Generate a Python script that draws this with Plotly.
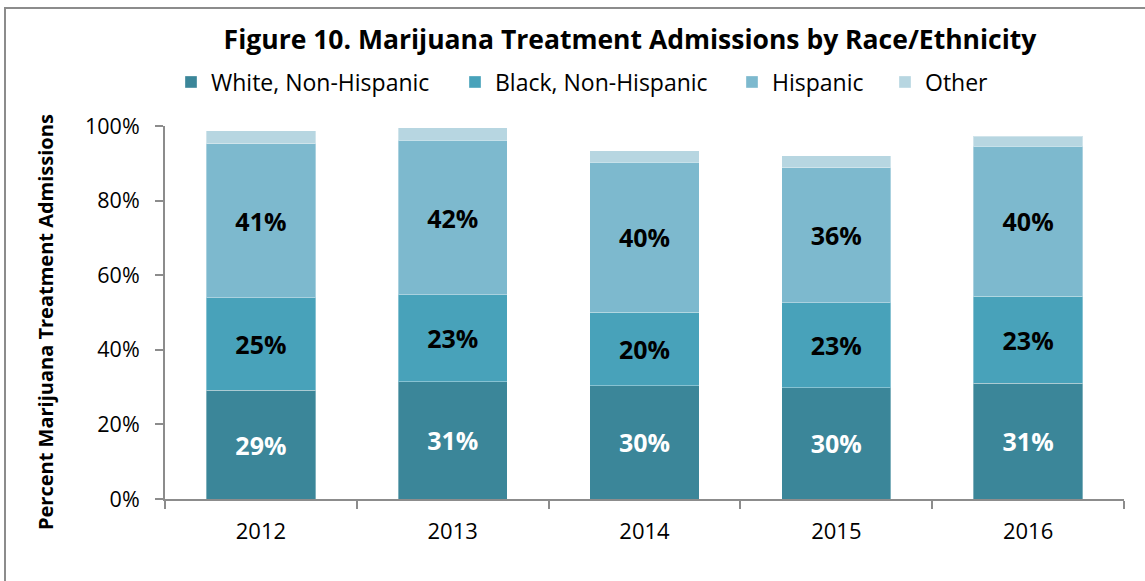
import plotly.graph_objects as go

# Share of marijuana treatment admissions by race/ethnicity (percent)
years = ["2012", "2013", "2014", "2015", "2016"]
white_non_hispanic = [29.2, 31.4, 30.3, 29.8, 31.1]
black_non_hispanic = [24.7, 23.3, 19.8, 22.8, 23.3]
hispanic = [41.3, 41.5, 40.2, 36.2, 40.2]
other = [3.5, 3.3, 3.0, 3.2, 2.7]

# name, values, fill, label colour, labelled, legend entry width
series = [
    ("White, Non-Hispanic", white_non_hispanic, "#3b8699", "white", True, 239),
    ("Black, Non-Hispanic", black_non_hispanic, "#48a2ba", "black", True, 232),
    ("Hispanic", hispanic, "#7db9ce", "black", True, 108),
    ("Other", other, "#b7d6e1", "black", False, 70),
]

FONT = "Open Sans"
W, H = 1145, 581
L, R, T, B = 165, 21, 126, 82
pw = W - L - R
ph = H - T - B

fig = go.Figure()
for name, vals, color, tcolor, show_text, lw in series:
    fig.add_trace(go.Bar(
        x=years, y=vals, name=name,
        marker=dict(color=color, line=dict(color="rgba(255,255,255,0.35)", width=1)),
        texttemplate="%{y:.0f}%" if show_text else None,
        textposition="inside" if show_text else "none",
        insidetextanchor="middle",
        textangle=0,
        textfont=dict(family=FONT, size=25, color=tcolor, weight="bold"),
        legendwidth=lw,
        hoverinfo="skip",
    ))

fig.update_layout(
    width=W, height=H,
    margin=dict(l=L, r=R, t=T, b=B, pad=0),
    barmode="stack",
    bargap=0.43,
    plot_bgcolor="white",
    paper_bgcolor="white",
    font=dict(family=FONT, color="black"),
    title=dict(
        text="<b>Figure 10. Marijuana Treatment Admissions by Race/Ethnicity</b>",
        x=630 / W, xanchor="center",
        y=1 - 40 / H, yanchor="middle",
        font=dict(family=FONT, size=26.5, color="black"),
    ),
    legend=dict(
        orientation="h",
        x=(171 - L) / pw, xanchor="left",
        y=1 + (T - 82) / ph, yanchor="middle",
        font=dict(family=FONT, size=23, color="black"),
        itemwidth=30,
        traceorder="normal",
        bgcolor="rgba(0,0,0,0)",
    ),
    showlegend=True,
)

fig.update_xaxes(
    type="category",
    showline=True, linecolor="#8c8c8c", linewidth=2,
    ticks="outside", tickson="boundaries", ticklen=8, tickcolor="#8c8c8c", tickwidth=2,
    tickfont=dict(family=FONT, size=22, color="black"),
    ticklabelstandoff=12,
    showgrid=False,
)
fig.update_yaxes(
    range=[0, 100], dtick=20, ticksuffix="%",
    showline=True, linecolor="#8c8c8c", linewidth=2,
    ticks="outside", ticklen=8, tickcolor="#8c8c8c", tickwidth=2,
    tickfont=dict(family=FONT, size=21.5, color="black"),
    ticklabelstandoff=11,
    showgrid=False, zeroline=False,
)

# Y-axis title
fig.add_annotation(
    text="<b>Percent Marijuana Treatment Admissions</b>",
    textangle=-90,
    xref="paper", yref="paper",
    x=(45 - L) / pw, xanchor="center",
    y=1 - (322 - T) / ph, yanchor="middle",
    showarrow=False,
    font=dict(family=FONT, size=20, color="black"),
)

# Outer chart frame
fig.add_shape(
    type="rect", xref="paper", yref="paper",
    x0=(5 - L) / pw, x1=(W + 20 - L) / pw,
    y0=1 + (T - 8) / ph, y1=-(B + 20) / ph,
    line=dict(color="#8c8c8c", width=2),
    fillcolor="rgba(0,0,0,0)",
    layer="below",
)

fig.write_html("out.html")
